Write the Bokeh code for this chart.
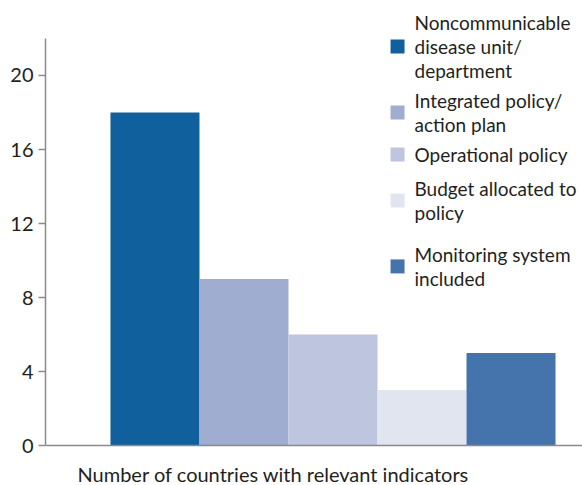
from bokeh.plotting import figure
from bokeh.models import Range1d, FixedTicker, ColumnDataSource, Span
from bokeh.core.properties import value
from bokeh.embed import file_html
from bokeh.resources import INLINE

# Data
categories = [
    "Noncommunicable\ndisease unit/\ndepartment",
    "Integrated policy/\naction plan",
    "Operational policy",
    "Budget allocated to\npolicy",
    "Monitoring system\nincluded",
]
counts = [18, 9, 6, 3, 5]
colors = ["#10609e", "#9eadd0", "#bdc5df", "#e1e5f0", "#4573ab"]
y_ticks = [0, 4, 8, 12, 16, 20]
x_title = "Number of countries with relevant indicators"

FONT = "Lato"
TXT = "#231f20"
AXC = "#8a8a8a"

p = figure(width=582, height=485, output_backend="svg", toolbar_location=None,
           x_range=Range1d(-1.23, 4.803), y_range=Range1d(-2.162, 24.054),
           min_border_left=45, min_border_right=0, min_border_top=0,
           min_border_bottom=0)
p.outline_line_color = None
p.xgrid.visible = False
p.ygrid.visible = False
p.xaxis.visible = False
p.background_fill_color = "white"
p.border_fill_color = "white"

idx = list(range(len(counts)))
src = ColumnDataSource(dict(x=idx, top=counts, color=colors, label=categories))
p.vbar(x="x", top="top", width=1.0, fill_color="color", line_color=None, source=src)

# baseline
p.add_layout(Span(location=0, dimension="width", line_color=AXC, line_width=1.5))

# y axis
p.yaxis.ticker = FixedTicker(ticks=y_ticks)
p.yaxis.bounds = (0, 22)
p.yaxis.axis_line_color = AXC
p.yaxis.axis_line_width = 1.5
p.yaxis.major_tick_line_color = AXC
p.yaxis.major_tick_line_width = 1.5
p.yaxis.major_tick_out = 7
p.yaxis.major_tick_in = 0
p.yaxis.minor_tick_line_color = None
p.yaxis.major_label_text_font = FONT
p.yaxis.major_label_text_font_size = "20px"
p.yaxis.major_label_text_color = TXT
p.yaxis.major_label_standoff = 5

# x-axis title
tsrc = ColumnDataSource(dict(x=[-0.871], y=[-1.52], t=[x_title]))
p.text(x="x", y="y", text="t", source=tsrc, text_font=value(FONT),
       text_font_size="20px", text_color=TXT, text_baseline="middle",
       text_align="left")

# legend (manual)
leg_y = [21.57, 18.0, 15.73, 13.24, 9.68]
sq_x = [2.725] * 5
txt_x = [2.916] * 5
lsrc = ColumnDataSource(dict(sx=sq_x, tx=txt_x, y=leg_y, color=colors, label=categories))
p.scatter(x="sx", y="y", marker="square", size=14, fill_color="color", line_color=None, source=lsrc)
p.text(x="tx", y="y", text="label", source=lsrc, text_font=value(FONT),
       text_font_size="19px", text_color=TXT, text_baseline="middle",
       text_align="left", text_line_height=1.05)

open("out.html", "w").write(file_html(p, INLINE))
